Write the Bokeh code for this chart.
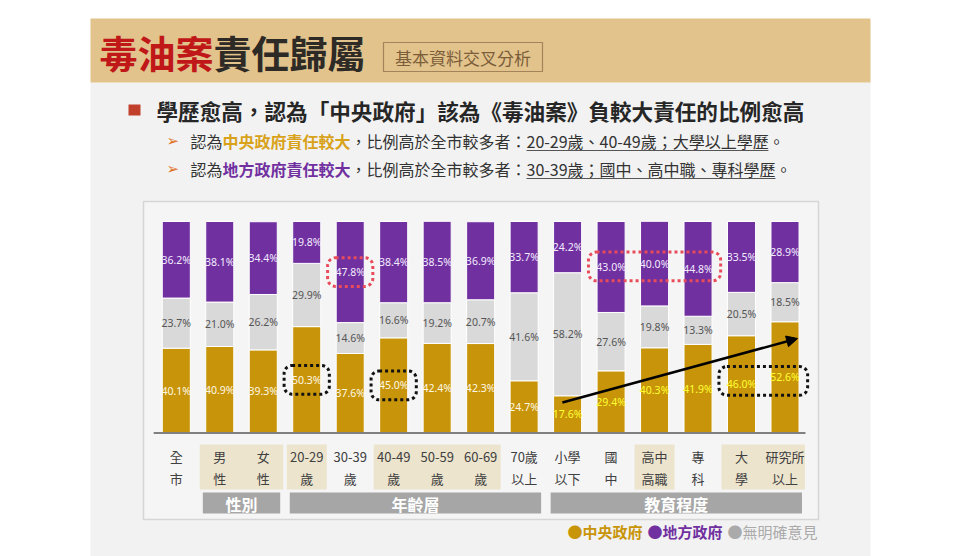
from bokeh.plotting import figure
from bokeh.models import Range1d, ColumnDataSource, BoxAnnotation, Arrow, NormalHead
from bokeh.core.properties import value
from bokeh.embed import file_html
from bokeh.resources import INLINE

# ---------------- data ----------------
categories = ["全市", "男性", "女性", "20-29歲", "30-39歲", "40-49歲", "50-59歲", "60-69歲",
              "70歲以上", "小學以下", "國中", "高中高職", "專科", "大學", "研究所以上"]
tick_top = ["全", "男", "女", "20-29", "30-39", "40-49", "50-59", "60-69",
            "70歲", "小學", "國", "高中", "專", "大", "研究所"]
tick_bottom = ["市", "性", "性", "歲", "歲", "歲", "歲", "歲",
               "以上", "以下", "中", "高職", "科", "學", "以上"]
central = [40.1, 40.9, 39.3, 50.3, 37.6, 45.0, 42.4, 42.3, 24.7, 17.6, 29.4, 40.3, 41.9, 46.0, 52.6]
no_opinion = [23.7, 21.0, 26.2, 29.9, 14.6, 16.6, 19.2, 20.7, 41.6, 58.2, 27.6, 19.8, 13.3, 20.5, 18.5]
local = [36.2, 38.1, 34.4, 19.8, 47.8, 38.4, 38.5, 36.9, 33.7, 24.2, 43.0, 40.0, 44.8, 33.5, 28.9]
group_names = ["性別", "年齡層", "教育程度"]
group_members = [["男性", "女性"],
                 ["20-29歲", "30-39歲", "40-49歲", "50-59歲", "60-69歲", "70歲以上"],
                 ["小學以下", "國中", "高中高職", "專科", "大學", "研究所以上"]]
highlighted = ["男性", "女性", "20-29歲", "40-49歲", "50-59歲", "60-69歲", "高中高職", "大學", "研究所以上"]
series_names = ["中央政府", "地方政府", "無明確意見"]
# highlighted labels: (series, categories)
red_marks = [("local", ["30-39歲"]), ("local", ["國中", "高中高職", "專科"])]
black_marks = [("central", ["20-29歲"]), ("central", ["40-49歲"]), ("central", ["大學", "研究所以上"])]

title_red = "毒油案"
title_dark = "責任歸屬"
subtitle = "基本資料交叉分析"
headline = "學歷愈高，認為「中央政府」該為《毒油案》負較大責任的比例愈高"

# ---------------- styles ----------------
GOLD = "#c8950a"
PURPLE = "#7030a0"
GRAY = "#d9d9d9"
CJK = value("Noto Sans CJK TC")
NUM = value("Noto Sans")

W, H = 960, 556
p = figure(width=W, height=H, x_range=Range1d(0, W), y_range=Range1d(H, 0),
           output_backend="svg", toolbar_location=None,
           x_axis_location=None, y_axis_location=None, min_border=0,
           outline_line_color=None, background_fill_color="white",
           border_fill_color="white")
p.grid.visible = False
# bar scales: category index and percentage
p.extra_x_ranges = {"bars": Range1d(-4.043, 18.036)}
p.extra_y_ranges = {"pct": Range1d(-58.39, 204.5)}

# ---------------- slide background ----------------
p.quad(left=90, right=870, top=82, bottom=556, fill_color="#f2f2f2", line_color=None)
p.quad(left=90, right=870, top=18, bottom=82, fill_color="#e2c38c", line_color=None)
p.text(x=[99], y=[51], text=[title_red], text_font=CJK, text_font_size="38px",
       text_font_style="bold", text_color="#c01818", text_baseline="middle")
p.text(x=[99 + 38 * 3], y=[51], text=[title_dark], text_font=CJK, text_font_size="38px",
       text_font_style="bold", text_color="#2e2a26", text_baseline="middle")
p.quad(left=383, right=542, top=42, bottom=71, fill_color=None,
       line_color="#a3835a", line_width=1.2)
p.text(x=[462.5], y=[57], text=[subtitle], text_font=CJK, text_font_size="17px",
       text_color="#7b5d3a", text_align="center", text_baseline="middle")

# headline
p.quad(left=128, right=140, top=104, bottom=115, fill_color="#c0402c", line_color=None)
p.text(x=[156], y=[109.5], text=[headline], text_font=CJK, text_font_size="21.6px",
       text_font_style="bold", text_color="#262626", text_baseline="middle")


def est_width(s, fs):
    w = 0.0
    for ch in s:
        if ch == "-":
            w += 0.36
        elif ord(ch) < 128:
            w += 0.55
        else:
            w += 1.0
    return w * fs


def rich_line(y, pieces, x0=190, fs=16):
    x = x0
    for txt, color, bold, underline in pieces:
        p.text(x=[x], y=[y], text=[txt], text_font=CJK, text_font_size=f"{fs}px",
               text_font_style="bold" if bold else "normal", text_color=color,
               text_baseline="middle")
        w = est_width(txt, fs)
        if underline:
            p.segment(x0=[x], x1=[x + w], y0=[y + 10], y1=[y + 10],
                      line_color="#555555", line_width=1)
        x += w


for yy in (140, 168):
    p.text(x=[166], y=[yy], text=["➢"], text_font=value("DejaVu Sans"),
           text_font_size="15px", text_color="#e0701c", text_baseline="middle")

rich_line(140, [("認為", "#333333", False, False),
                ("中央政府責任較大", "#d9a21b", True, False),
                ("，比例高於全市較多者：", "#333333", False, False),
                ("20-29歲、40-49歲；大學以上學歷", "#333333", False, True),
                ("。", "#333333", False, False)])
rich_line(168, [("認為", "#333333", False, False),
                ("地方政府責任較大", PURPLE, True, False),
                ("，比例高於全市較多者：", "#333333", False, False),
                ("30-39歲；國中、高中職、專科學歷", "#333333", False, True),
                ("。", "#333333", False, False)])

# ---------------- chart box ----------------
p.quad(left=143, right=818, top=201, bottom=519, fill_color="#f5f5f5",
       line_color="#d6d6d6", line_width=1.5)

n = len(categories)
xs = list(range(n))
mid_c = [c / 2 for c in central]
mid_n = [c + m / 2 for c, m in zip(central, no_opinion)]
mid_l = [c + m + l / 2 for c, m, l in zip(central, no_opinion, local)]
edu_idx = [categories.index(c) for c in group_members[2]]
src = ColumnDataSource(dict(
    x=xs, central=central, none=no_opinion, local=local,
    mid_c=mid_c, mid_n=mid_n, mid_l=mid_l,
    lab_c=[f"{v:.1f}%" for v in central],
    lab_n=[f"{v:.1f}%" for v in no_opinion],
    lab_l=[f"{v:.1f}%" for v in local],
    col_c=["#ffff33" if i in edu_idx else "#fff8e6" for i in xs],
))

p.vbar_stack(["central", "none", "local"], x="x", width=0.645, source=src,
             color=[GOLD, GRAY, PURPLE], line_color="white", line_width=1,
             x_range_name="bars", y_range_name="pct")

p.text(x="x", y="mid_c", text="lab_c", source=src, text_color="col_c",
       text_font=NUM, text_font_size="10.5px", text_align="center",
       text_baseline="middle", x_range_name="bars", y_range_name="pct")
p.text(x="x", y="mid_n", text="lab_n", source=src, text_color="#555555",
       text_font=NUM, text_font_size="10.5px", text_align="center",
       text_baseline="middle", x_range_name="bars", y_range_name="pct")
p.text(x="x", y="mid_l", text="lab_l", source=src, text_color="#f3ecff",
       text_font=NUM, text_font_size="10.5px", text_align="center",
       text_baseline="middle", x_range_name="bars", y_range_name="pct")

# baseline
p.segment(x0=[-0.52], x1=[n - 1 + 0.47], y0=[0], y1=[0], line_color="#808080",
          line_width=2, x_range_name="bars", y_range_name="pct")

# highlighted tick backgrounds (runs within groups)
for members in group_members:
    run = []
    for c in members + [None]:
        if c is not None and c in highlighted:
            run.append(categories.index(c))
        else:
            if run:
                p.quad(left=min(run) - 0.46, right=max(run) + 0.46, top=444, bottom=489,
                       fill_color="#ece4cd", line_color=None, x_range_name="bars")
            run = []

p.text(x=xs, y=[456] * n, text=tick_top, text_font=CJK, text_font_size="13px",
       text_color="#404040", text_align="center", text_baseline="middle",
       x_range_name="bars")
p.text(x=xs, y=[478] * n, text=tick_bottom, text_font=CJK, text_font_size="13px",
       text_color="#404040", text_align="center", text_baseline="middle",
       x_range_name="bars")

# group bands
for name, members in zip(group_names, group_members):
    idx = [categories.index(c) for c in members]
    p.quad(left=min(idx) - 0.39, right=max(idx) + 0.39, top=492, bottom=513,
           fill_color="#a6a6a6", line_color=None, x_range_name="bars")
    p.text(x=[(min(idx) + max(idx)) / 2], y=[503], text=[name], text_font=CJK,
           text_font_size="16px", text_font_style="bold", text_color="white",
           text_align="center", text_baseline="middle", x_range_name="bars")

# dotted highlight boxes
mids = {"central": mid_c, "local": mid_l}
for marks, color in ((red_marks, "#e84c5a"), (black_marks, "#111111")):
    for series, cats in marks:
        idx = [categories.index(c) for c in cats]
        ym = sum(mids[series][i] for i in idx) / len(idx)
        p.add_layout(BoxAnnotation(left=min(idx) - 0.52, right=max(idx) + 0.52,
                                   bottom=ym - 6.8, top=ym + 6.8,
                                   fill_alpha=0, line_color=color, line_alpha=1.0,
                                   line_width=3, line_dash="3 3", border_radius=8,
                                   x_range_name="bars", y_range_name="pct"))

# trend arrow
p.add_layout(Arrow(end=NormalHead(size=11, fill_color="black", line_color="black"),
                   x_start=8.88, y_start=14.4, x_end=14.29, y_end=44.7,
                   line_color="black", line_width=2.5,
                   x_range_name="bars", y_range_name="pct"))

# legend
leg_colors = [GOLD, PURPLE, "#aaaaaa"]
leg_bold = [True, True, False]
lx = 567
for name, col, b in zip(series_names, leg_colors, leg_bold):
    txt = "●" + name
    p.text(x=[lx], y=[531], text=[txt], text_font=CJK, text_font_size="15px",
           text_font_style="bold" if b else "normal", text_color=col,
           text_baseline="middle")
    lx += est_width(txt, 15) + 5

open("out.html", "w").write(file_html(p, INLINE))
